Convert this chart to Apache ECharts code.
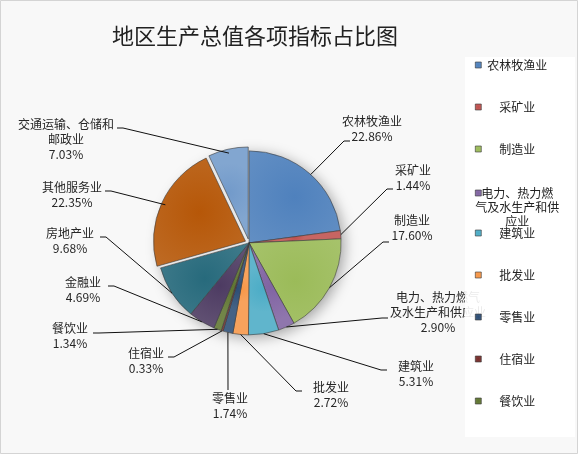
<!DOCTYPE html>
<html>
<head>
<meta charset="utf-8">
<script src="https://cdn.jsdelivr.net/npm/echarts@6/dist/echarts.min.js"></script>
<style>
  html, body { margin: 0; padding: 0; background: #fff; }
  #main { width: 578px; height: 454px; }
</style>
</head>
<body>
<div id="main"></div>
<script>
// 各项指标 (clockwise from 12 o'clock)
const categories = ['农林牧渔业', '采矿业', '制造业', '电力、热力燃气及水生产和供应业', '建筑业',
  '批发业', '零售业', '住宿业', '餐饮业', '金融业', '房地产业', '其他服务业', '交通运输、仓储和邮政业'];
const shares = [22.86, 1.44, 17.60, 2.90, 5.31, 2.72, 1.74, 0.33, 1.34, 4.69, 9.68, 22.35, 7.03];
const labelTexts = ['农林牧渔业', '采矿业', '制造业', '电力、热力燃气\n及水生产和供应业', '建筑业',
  '批发业', '零售业', '住宿业', '餐饮业', '金融业', '房地产业', '其他服务业', '交通运输、仓储和\n邮政业'];
const legendLines = ['农林牧渔业', '采矿业', '制造业', '电力、热力燃\n气及水生产和供\n应业', '建筑业',
  '批发业', '零售业', '住宿业', '餐饮业'];
const exploded = ['其他服务业', '交通运输、仓储和邮政业'];

const colors = ['#4f81bd', '#c0504d', '#9bbb59', '#8064a2', '#4bacc6', '#f79646', '#2c4d75',
  '#772c2a', '#5f7530', '#4d3b62', '#276a7c', '#b65708', '#729aca'];

// label placement (best-fit style, like the original): [centerX, top, lineEndX, lineEndY, side]
const labelSpots = [
  [372, 114, 350, 141, 1], [413, 163, 393, 189, 1], [412, 213, 389, 242, 1],
  [438, 290, 388, 318, 1], [416, 359, 387, 370, 1], [331, 380, 302, 391, 1],
  [230, 391, 228, 390, 0], [146, 346, 168, 357, -1], [70, 321, 93, 333, -1],
  [83, 275, 108, 286, -1], [70, 226, 100, 237, -1], [72, 180, 105, 191, -1],
  [66, 117, 117, 128, -1]
];
const lineAngleOverride = { 0: 42 };

const W = 578, H = 454;
const pieCenter = [0.431, 0.535];
const pieRadius = 92;
const centerPct = [pieCenter[0] * 100 + '%', pieCenter[1] * 100 + '%'];

const chart = echarts.init(document.getElementById('main'));

const pieData = categories.map(function (name, i) {
  return {
    name: name,
    value: shares[i],
    selected: exploded.indexOf(name) >= 0,
    itemStyle: {
      color: new echarts.graphic.RadialGradient(0.5, 0.5, 0.75, [
        { offset: 0, color: colors[i] },
        { offset: 1, color: echarts.color.lift(colors[i], 0.12) }
      ])
    }
  };
});

function richLines(str) {
  return str.split('\n').map(function (s) { return '{t|' + s + '}'; }).join('\n');
}

// legend split in three blocks so the wrapped item keeps the 42px rhythm
const legendTok = { width: 62, align: 'center', fontSize: 12, lineHeight: 14, fontFamily: 'Noto Sans CJK SC', color: '#222' };
function legendBlock(names, top, extra) {
  return Object.assign({
    orient: 'vertical',
    left: 465,
    top: top,
    z: 60,
    data: names,
    padding: [0, 10, 0, 10],
    itemWidth: 6,
    itemHeight: 6,
    itemGap: 30,
    icon: 'rect',
    selectedMode: false,
    itemStyle: { borderColor: '#333', borderWidth: 0.6 },
    formatter: function (name) {
      return richLines(legendLines[categories.indexOf(name)]);
    },
    textStyle: { fontFamily: 'Noto Sans CJK SC', fontSize: 12, color: '#222', rich: { t: legendTok } }
  }, extra || {});
}

chart.setOption({
  backgroundColor: '#f8f8f8',
  color: colors,
  graphic: [
    {
      type: 'rect', silent: true, z: -1,
      shape: { x: 0.5, y: 0.5, width: W - 1, height: H - 1 },
      style: { fill: 'none', stroke: '#d4d4d4', lineWidth: 1 }
    },
    {
      type: 'rect', silent: true, z: 50,
      shape: { x: 465, y: 57, width: 110, height: 380 },
      style: { fill: 'rgba(255,255,255,0.9)' }
    }
  ],
  title: {
    text: '地区生产总值各项指标占比图',
    left: 250,
    textAlign: 'center',
    top: 20,
    textStyle: { fontFamily: 'Noto Sans CJK SC', fontSize: 22, fontWeight: 'normal', color: '#222' }
  },
  legend: [
    legendBlock(categories.slice(0, 3), 59),
    legendBlock([categories[3]], 187, {
      textStyle: { fontFamily: 'Noto Sans CJK SC', fontSize: 12, color: '#222', padding: [28, 0, 0, 0], rich: { t: legendTok } }
    }),
    legendBlock(categories.slice(4, 9), 227)
  ],
  series: [
    {
      // soft drop shadow under the pie
      type: 'pie',
      silent: true,
      center: centerPct,
      radius: pieRadius,
      z: 1,
      animation: false,
      label: { show: false },
      labelLine: { show: false },
      data: [{ value: 1, itemStyle: { color: '#e8e8e8', shadowBlur: 14, shadowColor: 'rgba(0,0,0,0.35)', shadowOffsetX: 3, shadowOffsetY: 3 } }]
    },
    {
      type: 'pie',
      center: centerPct,
      radius: pieRadius,
      z: 2,
      startAngle: 90,
      clockwise: true,
      selectedMode: 'multiple',
      selectedOffset: 4,
      animation: false,
      itemStyle: { borderColor: '#3a3a3a', borderWidth: 0.6 },
      emphasis: { disabled: true },
      label: { show: false },
      labelLine: { show: false },
      data: pieData
    },
    {
      // same slices, transparent, carrying the data labels and leader lines
      type: 'pie',
      silent: true,
      center: centerPct,
      radius: pieRadius,
      z: 3,
      startAngle: 90,
      clockwise: true,
      animation: false,
      itemStyle: { color: 'rgba(0,0,0,0)', borderWidth: 0 },
      label: {
        show: true,
        fontFamily: 'Noto Sans CJK SC',
        fontSize: 12,
        color: '#262626',
        formatter: function (p) {
          return richLines(labelTexts[p.dataIndex] + '\n' + p.value.toFixed(2) + '%');
        },
        rich: { t: { align: 'center', fontSize: 12, lineHeight: 15, fontFamily: 'Noto Sans CJK SC', color: '#262626' } }
      },
      labelLine: {
        show: true,
        length: 20,
        length2: 6,
        lineStyle: { color: '#111', width: 1 }
      },
      labelLayout: function (params) {
        const s = labelSpots[params.dataIndex];
        let start = params.labelLinePoints ? params.labelLinePoints[0] : [s[2], s[3]];
        const ang = lineAngleOverride[params.dataIndex];
        if (ang != null) {
          const a = ang * Math.PI / 180;
          start = [W * pieCenter[0] + pieRadius * Math.sin(a), H * pieCenter[1] - pieRadius * Math.cos(a)];
        }
        return {
          x: s[0],
          y: s[1],
          align: 'center',
          verticalAlign: 'top',
          labelLinePoints: [start, [s[2] - 6 * s[4], s[3]], [s[2], s[3]]]
        };
      },
      data: categories.map(function (name, i) { return { name: name, value: shares[i] }; })
    }
  ]
});
</script>
</body>
</html>
